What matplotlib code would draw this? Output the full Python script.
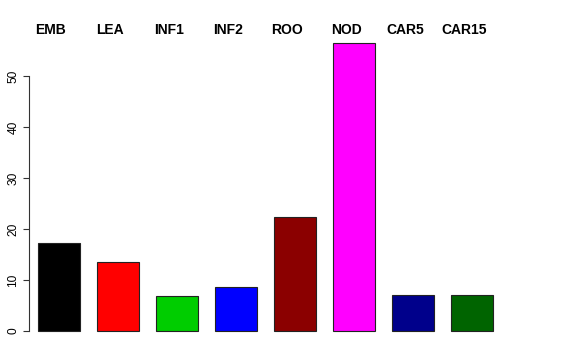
import matplotlib
matplotlib.use("Agg")
import matplotlib.pyplot as plt
import numpy as np

plt.rcParams['font.family'] = ['Liberation Sans', 'DejaVu Sans']

labels = ["EMB", "LEA", "INF1", "INF2", "ROO", "NOD", "CAR5", "CAR15"]
values = [17.3, 13.5, 6.9, 8.7, 22.3, 56.5, 7.05, 7.05]
colors = ["#000000", "#FF0000", "#00CD00", "#0000FF", "#8B0000", "#FF00FF", "#00008B", "#006400"]
yticks = [0, 10, 20, 30, 40, 50]

W, H = 576, 360
fig = plt.figure(figsize=(W / 100, H / 100), dpi=100)

# plot region in pixels (from top-left)
left_px, right_px = 29, 560
top_px, bottom_px = 31.3, 342.5
ax = fig.add_axes([left_px / W, 1 - bottom_px / H,
                   (right_px - left_px) / W, (bottom_px - top_px) / H])

x = np.arange(len(labels))
ax.bar(x, values, width=42 / 59, color=colors, edgecolor="#222222", linewidth=0.8)

ax.set_xlim(-(59 - left_px) / 59, (right_px - 59) / 59)
ax.set_ylim(-2.26, 58.76)

for s in ["top", "right", "bottom"]:
    ax.spines[s].set_visible(False)
ax.spines["left"].set_bounds(0, 50)
ax.spines["left"].set_linewidth(0.8)
ax.spines["left"].set_color("#333333")
ax.set_xticks([])
ax.set_yticks(yticks)
ax.set_yticklabels([str(t) for t in yticks], rotation=90, va="center", fontsize=8.6)
ax.tick_params(axis="y", length=4, width=0.8, color="#333333", pad=3)

# category labels above the bars
for i, lab in enumerate(labels):
    fig.text((59 + i * 59 - 8) / W, 1 - 30 / H, lab, ha="center", va="center",
             fontsize=10, fontweight="bold")

fig.savefig("out.png", dpi=100)
